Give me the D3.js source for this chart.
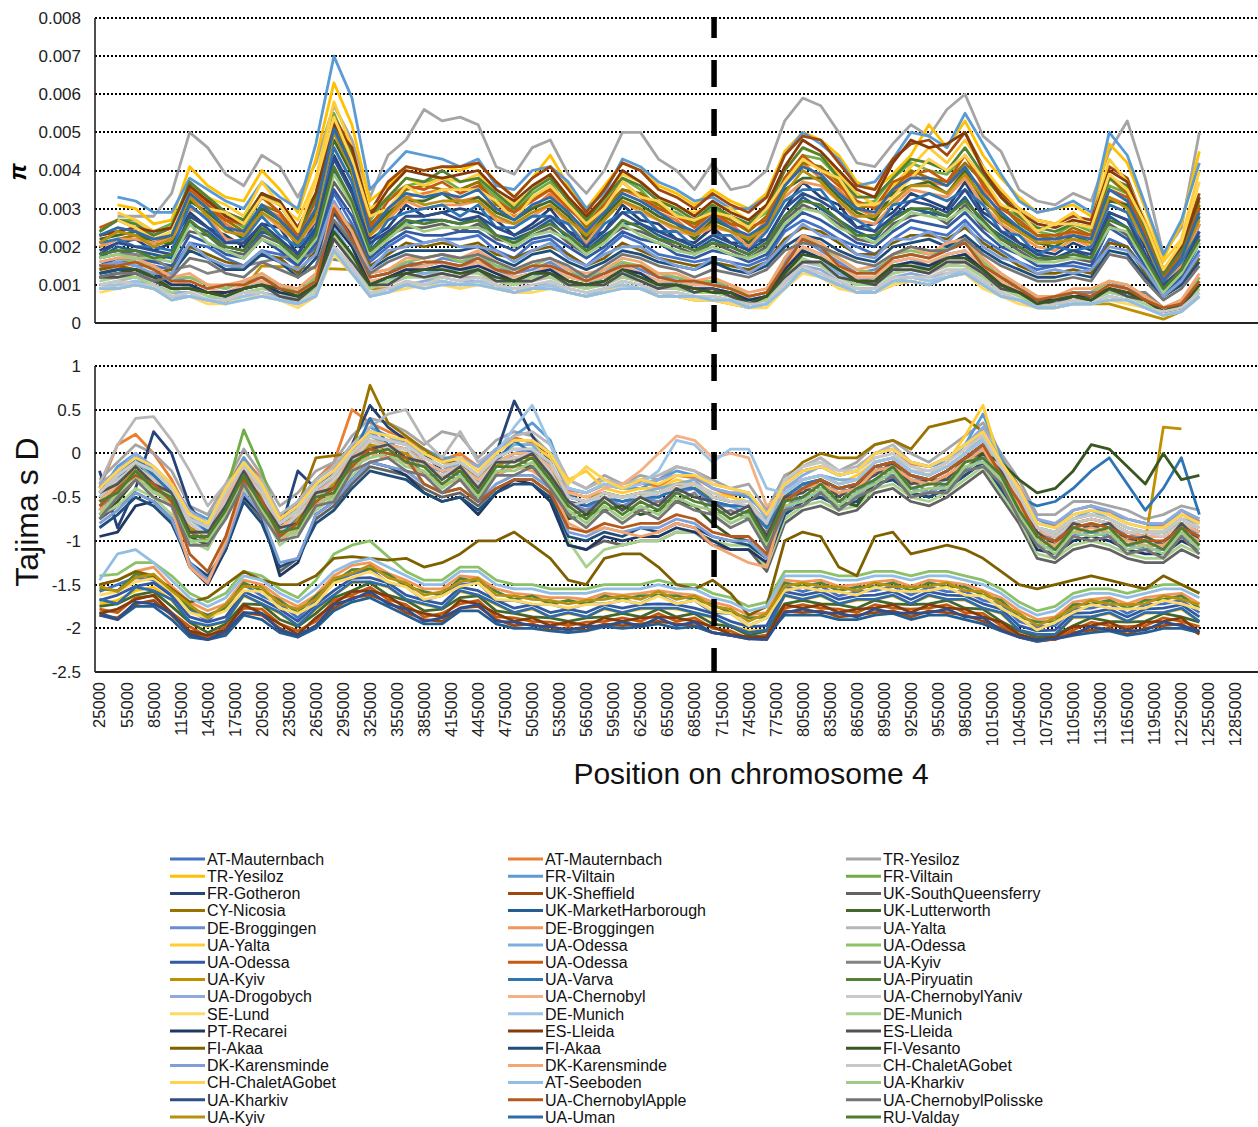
<!DOCTYPE html>
<html>
<head>
<meta charset="utf-8">
<script src="https://cdnjs.cloudflare.com/ajax/libs/d3/7.8.5/d3.min.js"></script>
<style>
body { margin: 0; background: #fff; }
text { font-family: "Liberation Sans", Arial, sans-serif; }
</style>
</head>
<body>
<div id="chart"></div>
<script>
// x axis categories (window start positions) and the positions that carry a value
var windowStarts = d3.range(25000, 1305001, 10000);
var samplePositions = d3.range(25000, 1245001, 20000);

var populations = [
	"AT-Mauternbach", "AT-Mauternbach", "TR-Yesiloz",
	"TR-Yesiloz", "FR-Viltain", "FR-Viltain",
	"FR-Gotheron", "UK-Sheffield", "UK-SouthQueensferry",
	"CY-Nicosia", "UK-MarketHarborough", "UK-Lutterworth",
	"DE-Broggingen", "DE-Broggingen", "UA-Yalta",
	"UA-Yalta", "UA-Odessa", "UA-Odessa",
	"UA-Odessa", "UA-Odessa", "UA-Kyiv",
	"UA-Kyiv", "UA-Varva", "UA-Piryuatin",
	"UA-Drogobych", "UA-Chernobyl", "UA-ChernobylYaniv",
	"SE-Lund", "DE-Munich", "DE-Munich",
	"PT-Recarei", "ES-Lleida", "ES-Lleida",
	"FI-Akaa", "FI-Akaa", "FI-Vesanto",
	"DK-Karensminde", "DK-Karensminde", "CH-ChaletAGobet",
	"CH-ChaletAGobet", "AT-Seeboden", "UA-Kharkiv",
	"UA-Kharkiv", "UA-ChernobylApple", "UA-ChernobylPolisske",
	"UA-Kyiv", "UA-Uman", "RU-Valday"
];

var colours = [
	"#4472C4", "#ED7D31", "#A5A5A5", "#FFC000", "#5B9BD5", "#70AD47",
	"#264478", "#9E480E", "#636363", "#997300", "#255E91", "#43682B",
	"#698ED0", "#F1975A", "#B7B7B7", "#FFCD33", "#7CAFDD", "#8CC168",
	"#335AA1", "#C55A11", "#848484", "#BF9000", "#2E75B6", "#548235",
	"#8FAADC", "#F4B183", "#C9C9C9", "#FFD966", "#9DC3E6", "#A9D18E",
	"#203864", "#843C0C", "#525252", "#7F6000", "#1F4E79", "#385723",
	"#7F9FD9", "#F3A672", "#C8C8C8", "#FFD34D", "#92BEE3", "#9FCC82",
	"#2F4E8A", "#B55A1E", "#757575", "#B8900F", "#2E6BA8", "#4E7D30"
];

var piTicks = [0, 0.001, 0.002, 0.003, 0.004, 0.005, 0.006, 0.007, 0.008];
var tajimaTicks = [1, 0.5, 0, -0.5, -1, -1.5, -2, -2.5];

// nucleotide diversity, in units of 0.0001 ("_" = no value)
var piValues = [
"14 16 16 15 14 21 20 17 15 19 18 15 20 34 26 16 20 23 21 22 22 23 19 17 21 22 18 15 19 23 21 18 17 16 17 16 15 17 24 27 25 22 20 18 22 25 24 23 27 22 19 16 14 15 15 14 22 20 14 8 11 19",
"21 24 25 22 23 33 30 26 23 30 28 21 30 50 40 25 29 33 34 35 32 33 30 28 30 34 29 23 28 35 33 29 27 23 28 26 22 27 36 42 38 35 30 28 34 39 37 36 40 35 28 24 22 21 24 22 33 31 22 12 18 30",
"_ 28 28 28 34 50 46 39 36 44 41 33 42 57 48 33 44 48 56 53 54 52 41 39 46 48 39 34 40 50 50 43 40 35 42 35 36 40 53 59 57 50 42 41 47 52 49 56 60 49 45 35 32 31 34 32 45 53 38 18 25 50",
"_ 31 30 26 27 41 36 33 32 40 35 29 43 63 52 32 36 41 40 41 40 42 37 33 38 44 36 30 36 42 40 36 34 31 35 32 30 34 45 50 48 44 37 35 39 44 52 46 53 44 38 33 29 30 31 28 47 42 30 17 26 45",
"_ 33 32 29 29 38 35 32 30 37 33 30 47 70 59 35 40 45 44 43 41 43 36 35 40 41 37 30 34 43 41 37 35 32 33 30 30 33 44 50 47 43 36 37 43 50 49 46 55 47 39 32 29 30 32 29 50 44 31 18 27 42",
"24 27 27 24 26 36 33 28 25 33 31 24 33 55 44 27 33 36 37 38 35 37 33 29 34 37 30 27 32 38 35 30 29 26 30 28 26 29 38 44 43 38 31 32 38 42 40 39 44 38 30 28 24 23 26 24 36 34 24 13 19 32",
"19 21 22 19 21 29 25 23 20 26 25 18 27 44 35 22 25 31 28 29 30 29 27 23 26 30 24 22 24 31 27 26 22 21 25 21 21 22 30 37 33 31 25 26 29 34 32 30 37 29 26 21 19 18 21 19 29 27 20 10 14 26",
"23 24 23 21 22 36 32 29 27 34 31 25 34 54 46 29 37 41 40 41 41 42 37 33 38 41 35 29 35 42 40 35 33 30 34 31 29 33 44 49 48 42 36 35 43 47 48 44 50 41 34 30 27 26 28 27 41 38 26 14 20 34",
"18 19 18 16 18 24 23 19 18 23 21 17 21 37 30 18 23 25 25 26 24 26 22 21 23 25 21 18 22 25 24 22 20 18 21 19 17 20 27 31 29 26 22 21 26 28 29 26 31 25 22 19 16 17 17 16 26 23 17 9 12 22",
"20 22 23 21 23 34 30 27 24 31 29 22 30 52 42 26 30 35 36 35 35 37 31 29 33 35 31 25 30 35 34 31 28 26 29 27 24 28 36 42 41 37 30 31 35 40 38 37 42 37 31 26 23 22 25 23 38 34 23 12 17 31",
"17 20 19 18 17 26 24 20 19 24 22 16 24 40 31 19 24 26 27 27 26 28 23 22 24 27 22 19 23 26 26 23 21 19 22 20 18 21 28 33 30 27 24 22 28 30 29 28 33 26 23 20 17 17 19 17 28 25 18 9 13 23",
"22 23 24 21 21 32 29 25 22 30 27 20 29 48 39 24 29 32 32 34 31 33 29 27 30 32 28 22 28 33 31 28 26 22 27 25 21 26 35 38 38 33 29 27 34 36 37 34 40 32 28 25 21 20 23 21 32 31 21 11 16 28",
"14 16 15 15 11 12 10 9 11 12 10 8 12 29 21 12 13 16 15 17 16 17 15 13 14 16 13 12 13 16 14 12 12 10 11 9 7 8 16 22 19 16 13 14 17 18 17 20 21 16 12 9 7 6 8 8 11 9 7 4 5 12",
"20 22 22 21 22 30 28 22 21 29 25 21 27 46 37 23 27 32 30 31 31 32 27 26 28 31 26 21 27 32 29 27 24 23 25 24 20 25 33 37 36 32 27 26 31 35 34 33 38 31 26 23 20 19 22 20 31 29 21 11 15 26",
"10 11 12 11 9 9 7 6 8 9 8 6 10 22 17 10 10 12 13 13 12 12 11 10 11 12 10 9 11 12 11 9 9 8 8 7 5 6 12 16 15 12 10 11 13 14 13 15 16 12 9 7 5 5 6 6 8 7 5 3 4 9",
"_ 29 27 24 25 36 33 31 28 37 31 27 38 58 46 30 33 38 36 38 37 39 34 31 35 39 33 28 33 39 37 33 30 29 31 30 27 31 40 46 44 39 34 31 36 41 46 42 48 41 35 30 27 26 29 25 43 37 27 16 22 40",
"12 14 13 12 10 10 8 7 9 11 8 7 11 25 18 11 11 14 13 14 14 14 12 11 12 14 11 10 12 13 12 10 11 9 9 8 6 7 13 18 17 13 11 12 14 16 14 17 18 13 10 8 6 5 7 7 9 8 6 3 4 10",
"16 17 16 15 12 12 10 9 11 13 10 8 12 30 23 13 14 16 17 18 16 18 15 14 15 17 14 12 14 16 15 13 12 11 11 10 7 8 17 23 20 17 14 13 18 19 18 20 22 16 12 10 7 7 8 8 11 10 7 4 6 12",
"15 17 17 16 15 23 21 18 17 22 19 15 21 35 28 17 21 24 23 23 24 24 21 19 22 23 20 17 20 24 22 21 18 17 19 18 16 18 25 29 27 24 21 20 24 27 26 25 29 24 20 18 15 15 16 15 25 22 15 8 12 21",
"25 27 25 23 25 35 31 27 26 33 29 23 32 53 44 25 32 36 35 37 34 36 32 29 32 35 30 26 31 37 33 30 28 25 29 26 25 27 38 44 40 36 32 30 37 39 40 37 44 36 30 27 23 23 24 23 35 33 23 12 18 30",
"17 18 18 17 14 15 13 14 15 16 17 18 _ _ 16 12 13 15 15 16 15 16 14 12 13 15 12 11 12 15 13 11 11 10 10 9 6 7 14 20 18 14 12 12 16 17 15 18 19 14 11 8 6 6 8 8 _ _ 8 4 5 11",
"9 9 10 9 7 7 6 5 9 15 _ _ _ _ 14 9 9 10 10 11 10 11 9 8 9 10 8 7 8 10 9 7 7 6 6 5 4 5 10 14 12 10 8 8 10 11 10 12 13 10 7 6 4 4 5 5 5 _ _ 1 3 7",
"21 22 20 20 19 31 27 21 22 28 23 20 25 46 37 20 27 29 30 31 28 31 25 25 28 28 26 20 26 29 29 24 24 20 23 23 19 24 32 35 35 29 27 24 31 32 34 32 35 31 24 23 18 20 19 20 31 29 18 11 16 24",
"24 27 26 23 25 37 33 29 27 34 31 24 33 53 45 28 33 38 37 40 37 38 34 30 35 38 32 27 33 38 36 32 30 27 31 28 26 30 40 46 44 38 33 33 38 43 42 40 46 39 33 28 25 24 26 25 38 36 25 13 19 33",
"9 10 11 10 8 8 6 6 7 8 7 5 8 20 15 8 9 10 11 12 11 11 10 9 9 11 9 8 9 11 10 8 8 7 7 6 4 5 11 15 14 11 9 9 12 13 12 13 14 11 8 6 5 4 5 5 7 6 4 3 4 8",
"13 15 14 13 10 11 9 8 10 11 9 7 11 27 21 11 12 14 15 16 14 16 13 12 13 15 12 11 12 15 13 11 11 10 10 9 6 7 15 20 18 15 12 12 16 17 16 18 19 15 11 8 6 6 7 7 10 8 6 4 5 11",
"9 10 10 9 7 8 6 6 7 8 6 5 8 19 14 8 8 10 10 11 10 11 9 9 9 10 9 8 8 10 9 8 8 7 7 6 4 5 10 14 13 10 8 9 11 12 11 13 14 10 8 6 4 4 5 5 7 6 4 3 3 8",
"8 9 10 9 6 7 5 5 7 7 6 4 7 18 13 7 8 9 10 10 9 10 9 8 8 9 8 7 8 10 9 7 7 6 6 5 4 4 9 13 12 9 8 8 10 11 10 12 13 9 7 5 4 4 5 5 6 5 4 2 3 7",
"10 10 11 9 7 7 6 6 7 8 6 5 7 20 15 7 8 11 10 11 10 11 10 8 9 10 8 7 9 10 9 8 7 7 7 6 4 5 11 14 12 10 9 8 11 12 11 12 14 10 7 6 4 5 5 5 7 6 4 2 3 7",
"11 12 12 10 8 10 7 7 8 9 8 6 9 23 17 9 11 12 12 12 13 13 11 10 12 12 10 9 10 12 11 10 9 8 8 7 6 6 12 17 15 12 10 10 13 14 14 15 15 12 9 7 5 5 6 6 8 7 5 3 4 9",
"13 14 14 13 10 10 8 8 9 10 8 7 10 26 20 10 12 14 14 15 14 15 13 11 13 14 11 10 11 14 13 10 10 9 9 8 6 7 14 19 17 14 11 11 15 16 15 17 18 14 10 8 6 6 7 7 9 8 6 3 5 10",
"23 24 25 24 25 36 32 28 26 34 32 25 34 52 46 28 35 40 39 38 39 40 35 32 36 39 33 28 33 40 37 33 31 28 32 29 27 31 41 48 45 40 35 33 42 48 46 47 50 40 33 29 26 25 27 26 40 37 26 14 20 33",
"12 12 13 11 9 9 8 7 9 10 7 6 10 22 16 10 10 13 12 13 12 14 11 11 11 13 10 10 10 13 11 9 10 8 9 7 5 7 12 16 16 12 11 10 14 14 13 16 16 13 9 8 6 5 7 6 9 7 6 3 4 10",
"14 15 14 13 14 20 18 16 15 18 17 13 19 30 25 15 18 21 20 21 20 21 18 17 19 20 18 15 17 21 19 17 16 15 16 15 14 16 22 25 24 21 18 18 21 23 23 22 25 21 18 15 13 13 14 13 21 20 13 7 10 17",
"13 14 14 12 13 19 17 14 14 18 16 12 17 29 23 14 17 19 19 19 19 20 17 15 18 19 16 14 16 19 18 16 15 14 16 14 13 15 20 23 22 19 17 16 20 21 22 20 23 19 16 14 12 12 13 12 19 18 12 7 10 16",
"12 13 14 12 9 9 8 7 9 10 9 7 10 24 18 10 12 13 14 14 13 14 12 11 13 13 11 10 11 14 12 10 10 9 8 8 5 7 13 18 17 14 11 11 15 15 14 17 17 14 10 8 5 6 7 6 9 8 6 3 5 10",
"15 16 15 13 13 21 17 15 15 19 16 14 18 32 24 14 19 20 21 22 20 20 19 16 19 21 17 15 18 20 20 17 15 14 17 16 13 16 21 26 23 22 18 17 22 22 24 21 26 20 17 16 13 14 13 14 20 19 14 7 11 18",
"16 17 17 15 12 13 10 10 11 13 10 9 13 31 24 13 14 17 17 18 17 19 16 14 16 17 14 13 14 17 16 13 13 11 12 10 8 9 17 23 21 17 14 15 18 20 18 21 22 17 13 10 7 7 9 9 11 10 7 4 6 13",
"10 11 10 10 7 8 6 6 8 8 6 5 8 20 15 8 9 11 10 12 11 12 10 9 10 11 9 8 9 11 10 8 8 7 7 6 5 5 11 15 13 11 9 9 12 12 12 14 14 11 8 6 4 5 6 5 7 6 4 3 4 8",
"_ 27 25 22 24 34 30 29 26 33 31 24 37 54 43 28 30 36 33 35 35 35 32 27 33 36 31 26 30 37 33 32 28 27 29 28 25 30 37 43 40 38 31 31 33 38 43 40 44 38 31 29 24 26 26 25 39 35 26 14 21 37",
"9 9 10 9 6 7 6 5 6 7 6 5 7 19 13 7 8 10 9 10 10 10 9 8 9 9 8 7 8 9 9 7 7 7 6 6 4 5 9 14 12 10 8 8 11 11 10 12 13 10 7 6 4 4 5 5 6 6 4 2 3 7",
"17 18 17 17 16 26 21 19 17 22 20 16 22 39 31 18 22 26 24 25 25 25 23 20 23 24 22 18 21 26 23 21 19 18 20 18 17 19 26 30 29 25 23 21 25 29 28 27 30 26 21 18 16 16 17 17 25 24 16 8 13 21",
"18 21 20 19 18 28 25 21 21 26 22 18 25 43 34 21 24 28 28 29 27 28 25 23 25 28 24 20 24 29 26 24 22 20 23 21 19 22 30 34 32 29 25 24 28 32 31 29 35 28 24 21 18 17 19 18 29 27 18 10 14 24",
"15 15 16 14 11 11 9 10 10 12 9 8 11 30 22 12 13 15 16 16 15 17 14 13 15 15 13 11 13 15 15 12 11 11 10 9 7 8 15 22 20 15 13 13 17 18 17 19 21 15 12 9 6 7 8 7 10 9 6 4 5 11",
"12 13 13 11 12 17 16 13 12 16 14 12 15 27 21 13 16 18 17 18 17 18 16 14 16 17 15 12 15 18 17 15 14 12 14 13 12 14 19 21 20 18 16 15 18 20 19 19 22 18 15 13 11 11 12 11 18 17 11 6 9 15",
"21 24 23 20 22 33 28 24 23 29 26 21 28 50 40 23 28 33 31 32 32 32 28 26 29 31 27 23 27 32 30 27 25 23 26 24 22 25 34 40 37 32 28 28 32 36 36 34 39 33 27 24 21 21 22 21 33 30 21 11 17 27",
"23 25 24 22 23 34 30 25 24 31 27 22 30 51 41 24 30 34 33 34 33 35 30 27 31 33 29 24 29 34 32 29 26 24 28 25 23 26 36 41 39 34 30 29 35 38 38 36 41 34 29 25 22 22 23 22 35 32 22 11 17 29",
"18 19 19 17 18 27 23 20 19 25 21 17 23 41 32 19 23 27 26 27 26 27 23 21 24 26 23 19 22 27 25 22 21 19 21 20 18 21 28 32 31 27 23 23 27 30 30 28 32 27 22 20 17 17 18 17 27 25 17 9 14 22"
];

// Tajima's D, in units of 0.01 ("_" = no value)
var tajimaValues = [
"-158 -150 -142 -145 -162 -178 -192 -172 -150 -163 -172 -188 -168 -148 -138 -132 -148 -152 -168 -162 -150 -148 -168 -168 -173 -172 -178 -172 -172 -168 -172 -162 -172 -168 -182 -183 -197 -188 -152 -158 -152 -163 -158 -157 -152 -162 -153 -158 -158 -168 -172 -192 -198 -197 -178 -177 -172 -183 -173 -172 -168 -182",
"-40 10 22 0 -30 -70 -80 -40 -5 -30 -72 -60 -30 -10 50 35 25 18 5 -8 0 -15 5 18 12 0 -42 -45 -36 -40 -33 -38 -25 -28 -40 -48 -45 -72 -35 -20 -15 -25 -20 0 5 -12 -15 -5 10 25 -5 -38 -75 -82 -65 -60 -66 -75 -80 -82 -65 -78",
"-30 -10 10 0 -20 -60 -70 -35 5 -25 -60 -45 -20 -10 20 40 35 25 10 25 20 -5 15 25 20 0 -30 -40 -25 -35 -25 -30 -15 -20 -30 -40 -35 -65 -25 -15 -5 -20 -10 10 15 0 -10 5 20 35 0 -30 -70 -70 -55 -55 -60 -65 -75 -70 -60 -65",
"-172 -168 -157 -153 -168 -192 -198 -192 -163 -172 -183 -197 -178 -162 -148 -147 -153 -167 -173 -177 -158 -162 -173 -182 -178 -187 -183 -187 -178 -182 -178 -177 -178 -182 -188 -197 -203 -202 -163 -167 -163 -172 -168 -167 -163 -172 -163 -167 -168 -177 -183 -202 -208 -207 -188 -187 -183 -192 -183 -182 -178 -192",
"-45 -15 0 -20 -40 -65 -75 -45 -5 -35 -80 -55 -30 -15 10 30 20 10 5 -5 -5 -15 5 20 35 15 -40 -45 -35 -40 -40 -30 -20 -25 -40 -45 -50 -70 -35 -20 -15 -25 -20 0 5 -10 -15 -10 10 45 -5 -40 -75 -85 -65 -60 -70 -75 -80 -85 -65 -75",
"-55 -35 -10 -30 -50 -85 -95 -45 27 -20 -80 -65 -40 -25 0 20 15 10 -5 -15 -10 -25 -5 5 5 -10 -50 -55 -45 -50 -45 -45 -35 -35 -50 -55 -55 -80 -45 -30 -25 -35 -30 -10 -5 -20 -25 -15 0 15 -15 -45 -85 -90 -75 -70 -75 -85 -90 -90 -75 -85",
"-20 -85 -40 25 0 -60 -90 -55 -25 -50 -90 -20 -40 -20 10 55 30 15 0 -20 -10 -35 0 60 20 -10 -55 -60 -50 -55 -50 -50 -40 -40 -55 -60 -60 -85 -50 -35 -30 -40 -35 -15 -10 -25 -30 -20 -5 10 -20 -50 -90 -95 -80 -75 -80 -90 -95 -95 -80 -90",
"-185 -188 -172 -168 -185 -205 -212 -205 -182 -185 -200 -210 -197 -177 -165 -162 -170 -182 -190 -192 -177 -175 -190 -197 -195 -202 -200 -202 -195 -197 -195 -192 -195 -197 -205 -208 -212 -210 -180 -182 -180 -187 -185 -182 -180 -187 -180 -182 -185 -192 -200 -210 -215 -212 -205 -202 -200 -207 -200 -197 -195 -207",
"-75 -60 -45 -55 -75 -125 -145 -110 -50 -75 -135 -120 -75 -60 -35 -15 -20 -25 -40 -50 -45 -60 -40 -30 -30 -45 -105 -110 -100 -105 -100 -100 -90 -90 -105 -110 -110 -135 -80 -65 -60 -70 -65 -45 -40 -55 -60 -50 -35 -20 -50 -80 -120 -125 -110 -105 -110 -120 -125 -125 -110 -120",
"-60 -45 -20 -35 -55 -90 -100 -60 -30 -55 -90 -60 -5 _ 0 78 35 20 5 -10 -10 -30 -10 0 0 -15 -50 -55 -45 -50 -45 -45 -35 -40 -50 -55 -55 -80 -30 -10 0 -5 -5 10 15 5 30 35 40 25 -15 -50 -85 -95 -80 -75 -80 -90 -95 -95 -80 -90",
"-182 -190 -175 -175 -190 -210 -213 -208 -185 -190 -205 -210 -200 -180 -170 -165 -175 -185 -195 -195 -180 -180 -195 -200 -200 -203 -205 -203 -198 -200 -198 -195 -200 -198 -205 -208 -210 -208 -185 -185 -185 -190 -190 -185 -183 -190 -185 -185 -190 -195 -203 -210 -215 -212 -208 -205 -203 -208 -205 -200 -200 -205",
"-175 -172 -162 -158 -175 -193 -205 -195 -172 -173 -190 -198 -183 -165 -157 -148 -162 -168 -180 -178 -165 -163 -180 -183 -187 -188 -192 -188 -187 -183 -187 -178 -187 -183 -195 -198 -208 -203 -172 -168 -172 -173 -177 -168 -172 -173 -172 -168 -177 -178 -192 -203 -210 -208 -197 -188 -192 -193 -192 -183 -187 -193",
"-35 -25 -5 -25 -40 -70 -90 -50 -25 -45 -75 -65 -50 -30 -10 25 10 15 -15 -20 -25 -30 -15 0 5 -25 -55 -65 -50 -60 -50 -55 -45 -40 -60 -60 -70 -85 -55 -35 -40 -40 -45 -15 -20 -25 -35 -30 -5 5 -25 -60 -90 -100 -80 -85 -80 -95 -95 -105 -80 -95",
"-150 -145 -135 -130 -152 -170 -180 -172 -145 -150 -165 -175 -162 -140 -128 -125 -137 -145 -155 -155 -140 -142 -155 -160 -162 -165 -165 -167 -160 -162 -160 -157 -160 -162 -170 -175 -185 -182 -145 -147 -145 -152 -150 -147 -145 -152 -145 -147 -150 -157 -165 -180 -190 -187 -170 -167 -165 -172 -165 -162 -160 -172",
"-35 10 40 42 15 -20 -60 -35 -15 -30 -70 -55 -30 -15 10 30 45 50 15 -5 25 -10 5 20 25 10 -30 -40 -30 -35 -30 -25 -15 -20 -35 -40 -45 -70 -35 -15 -5 -20 -15 0 10 -10 -15 -5 10 20 -10 -40 -80 -85 -70 -65 -70 -80 -85 -85 -70 -80",
"-55 -30 -10 -20 -40 -75 -85 -45 -15 -40 -80 -65 -40 -25 0 20 15 10 -5 -15 -10 -25 -5 10 10 -5 -30 -20 -40 -45 -40 -40 -30 -35 -45 -50 -55 -80 -45 -30 -25 -35 -25 -10 -5 -20 -25 -10 20 55 -15 -45 -85 -90 -75 -70 -75 -85 -90 -90 -75 -85",
"-45 -25 -10 -25 -45 -75 -90 -45 -20 -40 -80 -65 -40 -30 -5 20 10 5 -10 -20 -10 -25 -5 10 10 -15 -50 -55 -45 -50 -45 -40 -35 -30 -50 -55 -55 -80 -40 -30 -25 -30 -30 -10 -5 -20 -25 -15 0 20 -15 -45 -85 -90 -75 -65 -75 -85 -90 -90 -75 -80",
"-140 -138 -125 -125 -140 -160 -170 -160 -135 -140 -155 -165 -145 -115 -105 -100 -118 -135 -145 -145 -130 -130 -145 -150 -150 -155 -155 -155 -150 -150 -150 -145 -150 -150 -160 -165 -175 -170 -135 -135 -135 -140 -140 -135 -135 -140 -135 -135 -140 -145 -155 -170 -180 -175 -160 -155 -155 -160 -155 -150 -150 -160",
"-168 -162 -152 -148 -163 -187 -193 -187 -158 -167 -178 -192 -173 -157 -143 -142 -148 -162 -168 -172 -153 -157 -168 -177 -173 -182 -178 -182 -173 -177 -173 -172 -173 -177 -183 -192 -198 -197 -158 -162 -158 -167 -163 -162 -158 -167 -158 -162 -163 -172 -178 -197 -203 -202 -183 -182 -178 -187 -178 -177 -173 -187",
"-178 -182 -165 -163 -182 -198 -210 -198 -177 -178 -195 -203 -192 -168 -162 -153 -167 -173 -187 -183 -172 -168 -187 -188 -192 -193 -197 -193 -192 -188 -192 -183 -192 -188 -200 -203 -212 -208 -177 -173 -177 -178 -182 -173 -177 -178 -177 -173 -182 -183 -197 -208 -212 -213 -202 -193 -197 -198 -197 -188 -192 -198",
"-65 -40 -20 -40 -55 -85 -105 -55 -35 -50 -95 -75 -60 -35 -20 10 -5 0 -25 -25 -30 -35 -25 -5 -15 -20 -70 -65 -65 -60 -65 -55 -55 -45 -70 -65 -75 -90 -65 -40 -45 -45 -50 -20 -25 -30 -45 -25 -20 5 -35 -55 -105 -100 -95 -80 -95 -95 -110 -100 -95 -95",
"-55 -35 -20 -30 -50 -85 -95 -55 -25 -50 -90 -75 -50 -35 -10 10 5 0 -15 -25 -20 -35 -15 -5 -5 -20 -45 -50 -45 -50 -45 -45 -35 -35 -50 -55 -55 -85 -55 -40 -35 -45 -40 -20 -15 -30 -35 -25 -10 5 -25 -55 -95 -100 -85 -80 -85 -95 -100 30 28 _",
"-50 -30 -5 -25 -45 -70 -90 -50 -20 -45 -95 -70 -45 -30 -5 40 10 5 -10 -20 -15 -30 -10 15 0 -15 -45 -60 -50 -55 -50 -50 -40 -40 -55 -60 -60 -85 -50 -35 -30 -40 -35 -15 -10 -25 -30 -20 -5 10 -20 -50 -60 -55 -40 -20 -5 -35 -65 -40 -5 -70",
"-155 -157 -138 -142 -155 -177 -185 -177 -148 -157 -168 -182 -163 -147 -133 -132 -138 -152 -158 -162 -143 -147 -158 -167 -163 -172 -168 -172 -163 -167 -163 -162 -163 -167 -173 -182 -188 -187 -148 -152 -148 -157 -153 -152 -148 -157 -148 -152 -153 -162 -168 -187 -193 -192 -173 -172 -168 -177 -168 -167 -163 -177",
"-35 -20 0 -15 -35 -65 -80 -40 -10 -35 -75 -60 -35 -20 5 25 20 10 0 -10 -5 -15 5 15 15 0 -40 -45 -35 -40 -35 -30 -25 -25 -40 -45 -45 -75 -40 -25 -15 -25 -20 0 5 -10 -15 -5 10 30 -10 -40 -75 -80 -65 -60 -65 -75 -80 -80 -65 -75",
"-55 -35 -15 -30 -50 -80 -95 -50 -20 -45 -85 -70 -45 -30 -5 15 10 5 -10 -20 -15 -30 -10 0 0 -15 -45 -50 -40 -35 -20 0 20 15 -5 0 -5 -60 -45 -30 -25 -35 -30 -10 -5 -20 -25 -15 0 15 -20 -50 -90 -95 -80 -75 -80 -90 -95 -95 -80 -90",
"-50 -30 -15 -30 -50 -80 -95 -55 -25 -45 -90 -70 -50 -30 -10 15 5 5 -15 -25 -15 -35 -10 -5 0 -20 -60 -55 -50 -50 -50 -45 -40 -35 -45 -55 -60 -80 -30 -15 -10 -25 -20 -5 0 -20 -20 -15 0 15 -15 -50 -85 -95 -80 -75 -80 -90 -90 -95 -80 -85",
"-162 -158 -147 -143 -158 -182 -188 -180 -157 -158 -177 -183 -172 -148 -142 -135 -147 -153 -167 -163 -152 -148 -167 -168 -172 -173 -177 -173 -172 -168 -172 -163 -172 -168 -180 -183 -197 -188 -157 -153 -157 -158 -162 -153 -157 -158 -157 -153 -162 -163 -177 -188 -202 -193 -182 -173 -177 -178 -177 -168 -172 -178",
"-45 -25 -10 -20 -40 -70 -85 -45 -15 -40 -80 -65 -40 -25 0 20 15 10 -5 -15 -10 -25 0 30 55 10 -40 -45 -35 -40 -35 -20 15 10 -10 5 5 -40 -45 -30 -25 -35 -30 -10 -5 -20 -25 -15 0 15 -15 -45 -85 -90 -75 -70 -75 -85 -90 -90 -75 -85",
"-70 -60 -40 -50 -70 -100 -110 -70 -40 -65 -105 -90 -65 -50 -25 -10 -15 -20 -35 -45 -40 -55 -35 -25 -25 -40 -100 -130 -110 -105 -100 -100 -90 -90 -100 -105 -105 -130 -75 -60 -55 -65 -60 -40 -35 -50 -55 -45 -30 -15 -45 -75 -115 -120 -105 -100 -105 -115 -120 -120 -105 -115",
"-95 -90 -60 -55 -75 -130 -150 -110 -50 -70 -140 -125 -70 -55 -30 -10 -15 -25 -45 -55 -50 -70 -45 -30 -35 -55 -105 -110 -95 -100 -95 -95 -85 -90 -100 -110 -110 -125 -70 -55 -50 -60 -55 -35 -30 -45 -50 -40 -25 -10 -40 -70 -110 -115 -100 -95 -100 -110 -115 -115 -100 -110",
"-183 -178 -167 -162 -183 -203 -208 -202 -173 -183 -195 -207 -188 -172 -158 -157 -163 -177 -183 -187 -168 -172 -183 -192 -188 -197 -193 -197 -188 -192 -188 -187 -188 -192 -198 -207 -210 -210 -173 -177 -173 -182 -178 -177 -173 -182 -173 -177 -178 -187 -193 -207 -213 -210 -198 -197 -193 -202 -193 -192 -188 -205",
"-45 -35 -15 -35 -45 -90 -90 -60 -20 -55 -85 -80 -45 -40 -5 5 10 -5 -10 -30 -15 -40 -10 -10 0 -25 -55 -70 -50 -65 -50 -60 -40 -50 -55 -70 -60 -95 -50 -45 -30 -50 -35 -25 -10 -35 -30 -30 -5 0 -20 -60 -90 -105 -80 -85 -80 -100 -95 -105 -80 -100",
"-150 -145 -135 -140 -155 -170 -165 -150 -135 -145 -150 -150 -140 -120 -118 -120 -122 -120 -130 -125 -115 -100 -100 -90 -105 -120 -145 -150 -120 -115 -115 -130 -150 -155 -145 -160 -185 -175 -100 -90 -95 -130 -140 -95 -90 -115 -110 -105 -110 -120 -135 -150 -155 -150 -145 -140 -145 -150 -155 -140 -150 -160",
"-85 -70 -50 -60 -80 -125 -140 -110 -55 -80 -130 -120 -80 -65 -40 -20 -25 -30 -45 -55 -50 -65 -45 -35 -35 -50 -95 -100 -90 -95 -85 -90 -80 -85 -95 -100 -105 -120 -70 -55 -50 -60 -55 -35 -30 -45 -50 -40 -25 -10 -40 -70 -105 -110 -95 -90 -95 -105 -110 -110 -95 -105",
"-70 -55 -30 -40 -60 -95 -105 -65 -35 -60 -100 -85 -60 -45 -20 0 -5 -10 -25 -35 -30 -45 -25 -15 -15 -30 -75 -70 -65 -60 -70 -65 -55 -60 -80 -95 -100 -120 -65 -50 -45 -55 -60 -30 -25 -40 -45 -35 -20 0 -10 -30 -45 -40 -20 10 5 -15 -35 0 -30 -25",
"-80 -65 -45 -55 -75 -125 -145 -105 -45 -70 -125 -120 -70 -55 -30 -10 -15 -20 -35 -45 -40 -55 -35 -25 -25 -40 -90 -95 -85 -90 -85 -85 -75 -80 -95 -100 -100 -120 -65 -50 -45 -55 -50 -30 -25 -40 -45 -35 -20 -5 -35 -65 -105 -110 -95 -90 -95 -105 -110 -110 -95 -105",
"-65 -50 -30 -40 -60 -130 -148 -100 -35 -60 -100 -85 -60 -45 -20 0 -5 -10 -25 -35 -30 -45 -25 -15 -20 -35 -80 -90 -85 -90 -95 -90 -80 -85 -105 -115 -125 -130 -55 -40 -35 -45 -40 -20 -15 -30 -35 -25 -10 5 -30 -60 -100 -105 -90 -85 -90 -100 -105 -105 -90 -100",
"-45 -25 -10 -20 -40 -75 -85 -45 -15 -40 -80 -65 -40 -25 0 20 15 10 -5 -15 -10 -25 -5 5 5 -10 -50 -55 -45 -50 -45 -45 -35 -35 -50 -55 -55 -80 -30 -15 -10 -20 -20 -5 0 -15 -20 -10 5 20 -15 -45 -85 -90 -75 -70 -75 -85 -90 -90 -75 -85",
"-40 -20 -5 -15 -35 -70 -80 -40 -10 -35 -75 -60 -35 -20 5 25 20 15 0 -10 -5 -20 0 15 15 0 -35 -15 -30 -40 -30 -35 -25 -25 -35 -40 -45 -70 -35 -20 -15 -25 -20 0 5 -10 -15 -5 10 25 -10 -40 -80 -85 -70 -65 -70 -80 -85 -85 -70 -80",
"-145 -115 -110 -125 -145 -165 -175 -165 -140 -145 -160 -170 -155 -135 -125 -120 -130 -140 -150 -150 -135 -135 -150 -155 -155 -160 -160 -160 -155 -155 -155 -150 -155 -155 -165 -170 -180 -175 -140 -140 -140 -145 -145 -140 -140 -145 -140 -140 -145 -150 -160 -175 -185 -180 -165 -160 -160 -165 -160 -155 -155 -165",
"-70 -45 -25 -45 -55 -100 -100 -70 -30 -65 -95 -90 -55 -50 -15 -5 0 -15 -20 -40 -25 -50 -20 -20 -10 -35 -65 -80 -60 -75 -60 -70 -50 -60 -65 -80 -70 -105 -60 -55 -40 -60 -45 -35 -20 -45 -40 -40 -15 -10 -30 -70 -100 -115 -90 -95 -90 -110 -105 -115 -90 -110",
"-185 -190 -170 -172 -183 -207 -213 -203 -182 -183 -202 -208 -197 -173 -167 -158 -172 -178 -192 -188 -177 -173 -192 -193 -197 -198 -202 -198 -197 -193 -197 -188 -197 -193 -205 -208 -212 -213 -182 -178 -182 -183 -187 -178 -182 -183 -182 -178 -187 -188 -202 -210 -213 -212 -207 -198 -202 -203 -202 -193 -197 -203",
"-60 -40 -25 -35 -55 -115 -135 -95 -30 -55 -95 -80 -55 -40 -15 5 0 -5 -35 -45 -40 -55 -40 -30 -30 -45 -85 -90 -80 -85 -80 -80 -70 -75 -90 -95 -95 -115 -55 -40 -30 -40 -35 -15 -10 -25 -30 -20 -5 10 -25 -55 -95 -100 -85 -80 -85 -95 -100 -100 -85 -95",
"-75 -50 -30 -50 -60 -105 -105 -75 -35 -70 -100 -95 -60 -55 -20 -10 -5 -20 -25 -45 -30 -55 -25 -25 -15 -40 -70 -85 -65 -80 -65 -75 -55 -65 -70 -85 -75 -110 -65 -60 -45 -65 -50 -40 -25 -50 -45 -45 -20 -15 -35 -75 -105 -120 -95 -100 -95 -115 -110 -120 -95 -115",
"-152 -158 -142 -138 -157 -173 -188 -173 -152 -153 -172 -178 -167 -143 -137 -128 -142 -148 -162 -158 -147 -143 -162 -163 -167 -168 -172 -168 -167 -163 -167 -158 -167 -163 -175 -178 -192 -183 -152 -148 -152 -153 -157 -148 -152 -153 -152 -148 -157 -158 -172 -183 -197 -188 -177 -168 -172 -173 -172 -163 -167 -173",
"-167 -172 -153 -157 -167 -192 -197 -192 -162 -172 -182 -197 -177 -162 -147 -147 -152 -167 -172 -177 -157 -162 -172 -182 -177 -187 -182 -187 -177 -182 -177 -177 -177 -182 -187 -197 -205 -202 -162 -167 -162 -172 -167 -167 -162 -172 -162 -167 -167 -177 -182 -202 -207 -207 -187 -187 -182 -192 -182 -182 -177 -192",
"-55 -45 -20 -40 -50 -95 -95 -65 -25 -60 -90 -85 -50 -45 -10 0 5 -10 -15 -35 -20 -45 -15 -15 -5 -30 -60 -75 -55 -70 -55 -65 -45 -55 -60 -75 -65 -100 -55 -50 -35 -55 -40 -30 -15 -40 -35 -35 -10 -5 -25 -65 -95 -110 -85 -90 -85 -105 -100 -110 -85 -105"
];

var W = 1258, H = 1127,
	plotLeft = 95, plotRight = 1258,
	piTop = 18, piBottom = 323,
	tdTop = 366, tdBottom = 672,
	markerX = 705000;

function parseRow(row, unit) {
	var out = [];
	row.trim().split(/\s+/).forEach(function(v, i) {
		if (v !== "_" && i < samplePositions.length) {
			out.push({ pos: samplePositions[i], value: +v * unit });
		}
	});
	return out;
}

var piSeries = piValues.map(function(r) { return parseRow(r, 0.0001); });
var tdSeries = tajimaValues.map(function(r) { return parseRow(r, 0.01); });

var svg = d3.select("#chart").append("svg")
	.attr("width", W)
	.attr("height", H);

var x = d3.scaleBand()
	.domain(windowStarts)
	.range([plotLeft, plotRight]);

function cx(pos) { return x(pos) + x.bandwidth() / 2; }

var yPi = d3.scaleLinear().domain([0, 0.008]).range([piBottom, piTop]);
var yTd = d3.scaleLinear().domain([-2.5, 1]).range([tdBottom, tdTop]);

function drawPanel(y, ticks, series, bottomValue, fmt) {
	var g = svg.append("g");

	// dotted gridlines
	g.selectAll(".grid")
		.data(ticks.filter(function(t) { return t !== bottomValue; }))
		.enter().append("line")
		.attr("x1", plotLeft).attr("x2", plotRight)
		.attr("y1", function(d) { return Math.round(y(d)); })
		.attr("y2", function(d) { return Math.round(y(d)); })
		.style("stroke", "#000")
		.style("stroke-width", 2)
		.style("stroke-dasharray", "2,2");

	var yAxis = d3.axisLeft(y).tickValues(ticks).tickSize(0).tickPadding(14).tickFormat(fmt);
	var ax = g.append("g")
		.attr("transform", "translate(" + plotLeft + ",0)")
		.call(yAxis);
	ax.select(".domain").remove();
	ax.selectAll("text")
		.style("font-size", "17px")
		.style("fill", "#222")
		.style("font-family", "'Liberation Sans', Arial, sans-serif");

	var line = d3.line()
		.x(function(d) { return cx(d.pos); })
		.y(function(d) { return y(d.value); });

	g.selectAll(".series")
		.data(series)
		.enter().append("path")
		.attr("d", line)
		.style("fill", "none")
		.style("stroke", function(d, i) { return colours[i]; })
		.style("stroke-width", 2.8)
		.style("stroke-linejoin", "round");

	// axis lines
	g.append("line")
		.attr("x1", plotLeft).attr("x2", plotRight)
		.attr("y1", y(bottomValue)).attr("y2", y(bottomValue))
		.style("stroke", "#222").style("stroke-width", 2);
	g.append("line")
		.attr("x1", plotLeft).attr("x2", plotLeft)
		.attr("y1", Math.min(y(ticks[0]), y(ticks[ticks.length - 1])))
		.attr("y2", y(bottomValue))
		.style("stroke", "#222").style("stroke-width", 1.6);
}

drawPanel(yPi, piTicks, piSeries, 0, function(d) { return d === 0 ? "0" : d3.format(".3f")(d); });
drawPanel(yTd, tajimaTicks, tdSeries, -2.5, function(d) { return String(d); });

// x axis labels, every third window
var xAxis = d3.axisBottom(x)
	.tickValues(windowStarts.filter(function(d, i) { return i % 3 === 0 && d <= 1285000; }))
	.tickSize(0)
	.tickPadding(0);
var xg = svg.append("g")
	.attr("transform", "translate(0," + tdBottom + ")")
	.call(xAxis);
xg.select(".domain").remove();
xg.selectAll("text")
	.attr("transform", "translate(0,10) rotate(-90)")
	.attr("text-anchor", "end")
	.attr("x", 0).attr("y", 0).attr("dy", "0.36em")
	.style("font-size", "16.5px")
	.style("fill", "#222")
	.style("font-family", "'Liberation Sans', Arial, sans-serif");

// dashed marker line
svg.append("line")
	.attr("x1", cx(markerX) + 1.5).attr("x2", cx(markerX) + 1.5)
	.attr("y1", piTop - 1).attr("y2", tdBottom)
	.style("stroke", "#000")
	.style("stroke-width", 5.5)
	.style("stroke-dasharray", "27,22")
	.style("stroke-dashoffset", 6);

// axis titles
svg.append("text")
	.attr("transform", "translate(26,172) rotate(-90)")
	.attr("text-anchor", "middle")
	.style("font-size", "24px")
	.style("font-weight", "bold")
	.style("font-style", "italic")
	.text("π");

svg.append("text")
	.attr("transform", "translate(38,512) rotate(-90)")
	.attr("text-anchor", "middle")
	.style("font-size", "32px")
	.style("fill", "#111")
	.text("Tajima s D");

svg.append("text")
	.attr("x", 751).attr("y", 784)
	.attr("text-anchor", "middle")
	.style("font-size", "30px")
	.style("fill", "#111")
	.text("Position on chromosome 4");

// legend, filled row by row in three columns
var legendCols = [170, 508, 846];
var legend = svg.append("g").selectAll("g")
	.data(populations)
	.enter().append("g")
	.attr("transform", function(d, i) {
		return "translate(" + legendCols[i % 3] + "," + (859 + Math.floor(i / 3) * 17.2) + ")";
	});
legend.append("line")
	.attr("x1", 0).attr("x2", 35)
	.style("stroke", function(d, i) { return colours[i]; })
	.style("stroke-width", 3);
legend.append("text")
	.attr("x", 37).attr("dy", "0.36em")
	.style("font-size", "16px")
	.style("fill", "#111")
	.text(function(d) { return d; });
</script>
</body>
</html>
